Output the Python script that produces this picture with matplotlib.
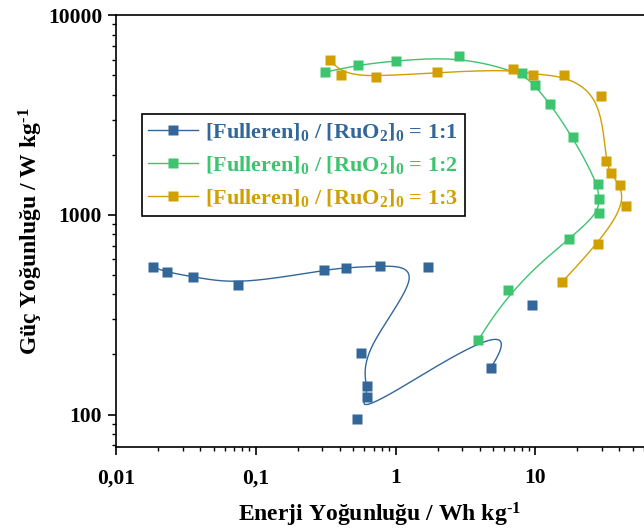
import numpy as np
import matplotlib
matplotlib.use("Agg")
import matplotlib.pyplot as plt
from matplotlib.ticker import FixedLocator, FixedFormatter, LogLocator, NullFormatter

plt.rcParams['font.family'] = ['Liberation Serif', 'DejaVu Serif']
plt.rcParams['font.weight'] = 'bold'
plt.rcParams['mathtext.fontset'] = 'custom'
plt.rcParams['mathtext.rm'] = 'Liberation Serif:bold'
plt.rcParams['mathtext.it'] = 'Liberation Serif:bold'
plt.rcParams['mathtext.bf'] = 'Liberation Serif:bold'

# veri (Enerji Wh/kg, Güç W/kg) - eğri sırasına göre
e_11 = [0.0184, 0.0231, 0.0357, 0.0741, 0.309, 0.440, 0.769, 1.71, 0.568, 0.624, 0.621, 0.526, 9.45, 4.79]
p_11 = [547, 515, 491, 446, 530, 543, 556, 551, 204, 138.5, 122, 94.6, 354, 171]

e_12 = [0.311, 0.535, 1.0, 2.87, 8.01, 9.88, 12.8, 18.6, 28.1, 28.5, 28.4, 17.5, 6.43, 3.91]
p_12 = [5178, 5652, 5921, 6228, 5154, 4457, 3593, 2445, 1431, 1204, 1024, 756, 421, 235.5]

e_13 = [0.341, 0.405, 0.727, 1.98, 6.98, 9.67, 16.1, 29.4, 31.9, 34.6, 40.2, 44.4, 28.1, 15.6]
p_13 = [5990, 5037, 4922, 5178, 5361, 5037, 5002, 3954, 1866, 1619, 1415, 1106, 716, 462]

labels = [r'[Fulleren]$_0$ / [RuO$_2$]$_0$ = 1:1',
          r'[Fulleren]$_0$ / [RuO$_2$]$_0$ = 1:2',
          r'[Fulleren]$_0$ / [RuO$_2$]$_0$ = 1:3']
colors = ['#336699', '#3CC46F', '#D19F00']

x_ticks = [0.01, 0.1, 1, 10]
x_tick_labels = ['0,01', '0,1', '1', '10']
y_ticks = [100, 1000, 10000]
y_tick_labels = ['100', '1000', '10000']


def bspline(x, y, n=400, k=3):
    # Origin tarzı B-spline (log eksende)
    pts = np.column_stack([np.log10(x), np.log10(y)])
    m = len(pts)
    knots = np.concatenate([np.zeros(k), np.linspace(0, 1, m - k + 1), np.ones(k)])
    t = np.linspace(0, 1 - 1e-9, n)
    N = np.array([[1.0 if knots[i] <= tt < knots[i + 1] else 0.0
                   for i in range(len(knots) - 1)] for tt in t])
    for p in range(1, k + 1):
        Nn = np.zeros((n, len(knots) - 1 - p))
        for i in range(len(knots) - 1 - p):
            d1 = knots[i + p] - knots[i]
            d2 = knots[i + p + 1] - knots[i + 1]
            a = (t - knots[i]) / d1 * N[:, i] if d1 > 0 else 0
            b = (knots[i + p + 1] - t) / d2 * N[:, i + 1] if d2 > 0 else 0
            Nn[:, i] = a + b
        N = Nn
    c = N @ pts
    c = np.vstack([c, pts[-1]])
    return 10 ** c[:, 0], 10 ** c[:, 1]


fig = plt.figure(figsize=(6.44, 5.30), dpi=100)
ax = fig.add_axes([116 / 644, (530 - 447.3) / 530, (644 - 116) / 644, (447.3 - 15.3) / 530])

series = [(e_11, p_11), (e_12, p_12), (e_13, p_13)]
for (e, p), c, lab in zip(series, colors, labels):
    cx, cy = bspline(e, p)
    ax.plot(cx, cy, color=c, lw=1.0, zorder=2)
    ax.plot(e, p, ls='none', marker='s', ms=7.2, color=c, mec='none', zorder=3)
    ax.plot([], [], color=c, lw=1.0, marker='s', ms=7.2, mec='none', label=lab)

ax.set_xscale('log')
ax.set_yscale('log')
ax.set_xlim(0.01, 60)
ax.set_ylim(68.5, 10000)

ax.xaxis.set_major_locator(FixedLocator(x_ticks))
ax.xaxis.set_major_formatter(FixedFormatter(x_tick_labels))
ax.yaxis.set_major_locator(FixedLocator(y_ticks))
ax.yaxis.set_major_formatter(FixedFormatter(y_tick_labels))
ax.xaxis.set_minor_locator(LogLocator(base=10, subs=np.arange(2, 10)))
ax.yaxis.set_minor_locator(LogLocator(base=10, subs=np.arange(2, 10)))
ax.xaxis.set_minor_formatter(NullFormatter())
ax.yaxis.set_minor_formatter(NullFormatter())

ax.spines['right'].set_visible(False)
for s in ['left', 'bottom', 'top']:
    ax.spines[s].set_linewidth(1.2)
ax.tick_params(which='major', direction='out', length=6, width=1.2, labelsize=15.5, pad=4)
ax.tick_params(which='minor', direction='out', length=3, width=1.0)
ax.tick_params(axis='x', which='major', pad=9)

ax.set_xlabel(r'Enerji Yoğunluğu / Wh kg$^{\text{-}1}$', fontsize=17, fontweight='bold', labelpad=9)
ax.set_ylabel(r'Güç Yoğunluğu / W kg$^{\text{-}1}$', fontsize=17, fontweight='bold', labelpad=2)

leg = ax.legend(loc='upper left', bbox_to_anchor=(0.0487, 0.7715), borderaxespad=0,
                fontsize=16, handlelength=2.25, handletextpad=0.3, labelspacing=0.5,
                borderpad=0.3, fancybox=False, framealpha=1, edgecolor='black')
leg.get_frame().set_linewidth(1.2)
for txt, c in zip(leg.get_texts(), colors):
    txt.set_color(c)

fig.savefig('out.png', dpi=100)
